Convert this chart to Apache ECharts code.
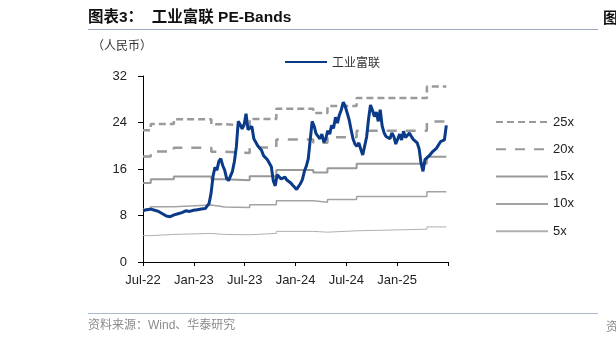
<!DOCTYPE html>
<html><head><meta charset="utf-8">
<script src="https://cdn.jsdelivr.net/npm/echarts@6/dist/echarts.min.js"></script>
<style>html,body{margin:0;padding:0;background:#fff}#c{width:616px;height:344px}</style>
</head><body><div id="c"></div>
<script>
// ---- data ----
const startDate = '2022-07-01';
const stepDays = 7; // weekly closes
const price = [
 8.8,8.9,9.0,9.2,9.1,8.9,8.9,8.8,8.7,8.5,
 8.3,8.0,7.9,7.8,7.8,8.0,8.1,8.2,8.3,8.4,
 8.5,8.6,8.8,8.8,8.7,8.8,8.9,9.0,9.0,8.9,
 9.1,9.1,9.2,9.3,10.1,11.8,14.7,16.3,15.8,17.3,
 17.8,16.6,15.8,14.4,14.0,14.3,15.6,17.3,19.8,24.2,
 23.6,22.9,23.6,25.5,22.8,22.5,23.3,21.2,21.3,20.0,
 19.8,19.2,18.3,18.0,17.6,17.3,16.4,14.0,13.1,15.0,
 14.8,14.3,14.4,14.6,14.1,14.0,13.6,13.2,13.0,12.5,
 12.8,13.5,14.2,15.6,16.5,17.8,21.0,24.2,23.4,22.1,
 22.0,21.2,22.0,20.6,21.2,22.6,22.0,23.5,23.0,24.9,
 23.9,25.3,26.2,27.5,26.8,26.5,24.5,22.8,21.2,20.3,
 19.9,20.5,19.4,18.4,18.7,21.5,24.6,27.0,26.1,25.0,
 25.8,24.2,26.2,23.4,22.2,21.6,21.8,21.2,22.2,21.6,
 20.3,20.4,22.0,21.0,22.5,21.4,21.8,22.2,21.6,21.1,
 20.9,20.5,19.5,17.0,15.6,17.6,17.5,18.2,18.0,19.0,
 18.7,19.6,19.5,20.7,21.0,21.0,23.5
];
const bandDates = ['2022-07-01','2022-07-29','2022-10-20','2023-03-04','2023-04-21','2023-07-20',
                   '2023-10-24','2024-03-05','2024-04-25','2024-08-08','2025-04-18'];
const band25 = [22.68,23.75,24.55,23.70,23.45,24.60,26.35,25.65,26.85,28.20,30.20];
const band20 = [18.14,19.00,19.64,18.96,18.76,19.68,21.08,20.52,21.48,22.56,24.16];
const band15 = [13.61,14.25,14.73,14.22,14.07,14.76,15.81,15.39,16.11,16.92,18.12];
const band10 = [9.07,9.50,9.82,9.48,9.38,9.84,10.54,10.26,10.74,11.28,12.08];
const band5  = [4.54,4.75,4.91,4.74,4.69,4.92,5.27,5.13,5.37,5.64,6.04];
const xTickLabels = ['Jul-22','Jan-23','Jul-23','Jan-24','Jul-24','Jan-25',''];
const yTickLabels = ['0','8','16','24','32'];
const seriesNames = ['工业富联','25x','20x','15x','10x','5x'];

// ---- build ----
const DAY = 86400000;
const t0 = Date.parse(startDate);
const dayOf = s => Math.round((Date.parse(s) - t0) / DAY);
const endDay = (price.length - 1) * stepDays;
const priceData = price.map((v, i) => [i * stepDays, v]);
const bandData = arr => {
  const d = bandDates.map((s, i) => [dayOf(s), arr[i]]);
  d.push([endDay, arr[arr.length - 1]]);
  return d;
};
const XI = 183;

const chart = echarts.init(document.getElementById('c'), null, {renderer: 'canvas'});
const bandSeries = (name, arr, color, width, type) => ({
  name, type: 'line', data: bandData(arr), step: 'end', symbol: 'none', silent: true,
  lineStyle: {color, width, type}, itemStyle: {color}, z: 2
});
chart.setOption({
  animation: false,
  backgroundColor: '#fff',
  textStyle: {fontFamily: 'Liberation Sans, Arial, Noto Sans CJK SC'},
  grid: {left: 143, right: 168, top: 76, bottom: 82, containLabel: false},
  legend: [
    {data: [seriesNames[0]], left: 279, top: 51, itemWidth: 42, itemHeight: 14, itemGap: 10,
     itemStyle: {opacity: 0},
     textStyle: {fontSize: 12, color: '#333', fontFamily: 'Noto Sans CJK SC'}},
    {data: seriesNames.slice(1), orient: 'vertical', left: 490, top: 110.5, itemWidth: 52, itemHeight: 14,
     itemGap: 14.3, itemStyle: {opacity: 0},
     textStyle: {fontSize: 13, color: '#222', fontFamily: 'Liberation Sans, Arial'}}
  ],
  xAxis: {
    type: 'value', min: 0, max: XI * 6, interval: XI,
    axisLine: {lineStyle: {color: '#000', width: 1}},
    axisTick: {inside: false, length: 4, lineStyle: {color: '#000'}},
    axisLabel: {fontSize: 13, color: '#222', margin: 12,
      formatter: v => xTickLabels[Math.round(v / XI)] || ''},
    splitLine: {show: false}
  },
  yAxis: {
    type: 'value', min: 0, max: 32, interval: 8,
    axisLine: {show: true, lineStyle: {color: '#000', width: 1}},
    axisTick: {show: true, inside: false, length: 5, lineStyle: {color: '#000'}},
    axisLabel: {fontSize: 13, color: '#222', margin: 16,
      formatter: v => yTickLabels[Math.round(v / 8)]},
    splitLine: {show: false}
  },
  series: [
    {name: seriesNames[0], type: 'line', data: priceData, symbol: 'none', z: 5,
     lineStyle: {color: '#0a3a88', width: 3}, itemStyle: {color: '#0a3a88'}},
    bandSeries(seriesNames[1], band25, '#9a9a9a', 2.5, [7, 4]),
    bandSeries(seriesNames[2], band20, '#9a9a9a', 2.5, [10, 9]),
    bandSeries(seriesNames[3], band15, '#999999', 2, 'solid'),
    bandSeries(seriesNames[4], band10, '#a3a3a3', 1.5, 'solid'),
    bandSeries(seriesNames[5], band5, '#b0b0b0', 1, 'solid')
  ],
  graphic: [
    {type: 'text', left: 88, top: 10, style: {text: '图表3：  工业富联 PE-Bands', fontSize: 15.5, fontWeight: 'bold',
      fill: '#111', fontFamily: 'Liberation Sans, Noto Sans CJK SC'}},
    {type: 'line', shape: {x1: 88, y1: 29.5, x2: 598, y2: 29.5}, style: {stroke: '#98a8be', lineWidth: 1}},
    {type: 'text', left: 92, top: 39, style: {text: '（人民币）', fontSize: 12, fill: '#333', fontFamily: 'Noto Sans CJK SC'}},
    {type: 'line', shape: {x1: 88, y1: 313.5, x2: 598, y2: 313.5}, style: {stroke: '#a9bacf', lineWidth: 1}},
    {type: 'text', left: 88, top: 320, style: {text: '资料来源：Wind、华泰研究', fontSize: 12, fill: '#8a8a8a',
      fontFamily: 'Liberation Sans, Noto Sans CJK SC'}},
    {type: 'text', left: 603, top: 10, style: {text: '图表4', fontSize: 15, fontWeight: 'bold', fill: '#111', fontFamily: 'Noto Sans CJK SC'}},
    {type: 'text', left: 606, top: 320, style: {text: '资料', fontSize: 12, fill: '#8a8a8a', fontFamily: 'Noto Sans CJK SC'}}
  ]
});
</script></body></html>
